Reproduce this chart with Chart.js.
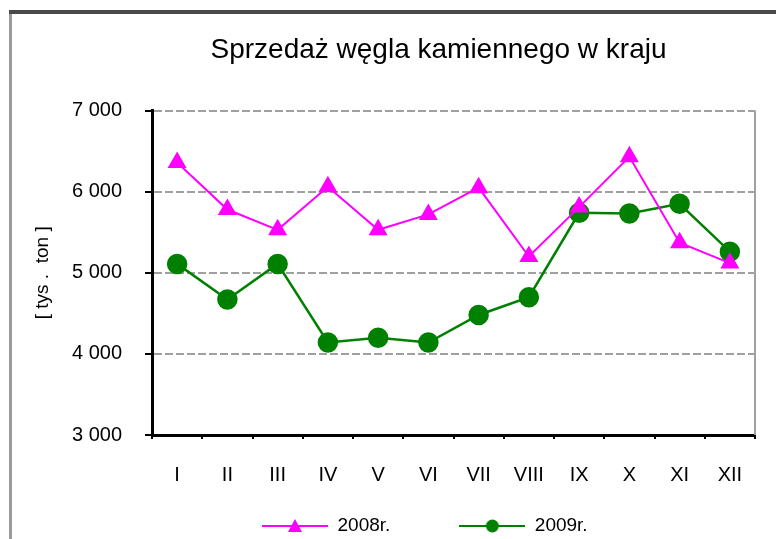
<!DOCTYPE html>
<html>
<head>
<meta charset="utf-8">
<script src="https://cdn.jsdelivr.net/npm/chart.js@4/dist/chart.umd.min.js"></script>
<style>
  html, body { margin: 0; padding: 0; background: #fff; }
  #wrap { position: relative; width: 776px; height: 539px; }
</style>
</head>
<body>
<div id="wrap"><canvas id="c" width="776" height="539"></canvas></div>
<script>
const months = ['I', 'II', 'III', 'IV', 'V', 'VI', 'VII', 'VIII', 'IX', 'X', 'XI', 'XII'];
const sales2008 = [6360, 5780, 5530, 6060, 5530, 5720, 6050, 5200, 5810, 6430, 5370, 5120];
const sales2009 = [5110, 4670, 5110, 4140, 4200, 4140, 4480, 4700, 5740, 5730, 5850, 5260];
const seriesNames = ['2008r.', '2009r.'];
const titleText = 'Sprzedaż węgla kamiennego w kraju';
const yTitle = '[ tys .  ton ]';

const FONT = "'Liberation Sans', Arial, sans-serif";
const MAGENTA = '#FF00FF';
const GREEN = '#008000';

function legendIcon(color, style) {
  const cv = document.createElement('canvas');
  cv.width = 66; cv.height = 16;
  const g = cv.getContext('2d');
  g.strokeStyle = color; g.lineWidth = 2;
  g.beginPath(); g.moveTo(0, 8); g.lineTo(66, 8); g.stroke();
  g.fillStyle = color;
  g.beginPath();
  if (style === 'triangle') {
    g.moveTo(33, 1); g.lineTo(40, 14); g.lineTo(26, 14); g.closePath();
  } else {
    g.arc(33, 8, 6.5, 0, Math.PI * 2);
  }
  g.fill();
  return cv;
}

const frame = {
  id: 'frame',
  afterLayout(chart) {
    const L = chart.legend;
    if (L) {
      L.left = 262 - 69; L.right = 776;
      L.top = 526 - 69 - 9.5; L.bottom = 539;
      L.height = L.bottom - L.top;
      L.width = L.right - L.left;
    }
    const T = chart.titleBlock;
    if (T) { T.left += 61; T.right += 61; }
  },
  afterDraw(chart) {
    const ctx = chart.ctx, a = chart.chartArea;
    ctx.save();
    ctx.fillStyle = '#9a9a9a';
    ctx.fillRect(9, 11, 3, 528);
    ctx.fillStyle = '#4a4a4a';
    ctx.fillRect(9, 10, 767, 4);
    ctx.strokeStyle = '#a0a0a0';
    ctx.lineWidth = 2;
    ctx.beginPath(); ctx.moveTo(a.right, a.top); ctx.lineTo(a.right, a.bottom); ctx.stroke();
    ctx.restore();
  }
};

new Chart(document.getElementById('c'), {
  type: 'line',
  data: {
    labels: months,
    datasets: [
      { label: seriesNames[0], data: sales2008, borderColor: MAGENTA, backgroundColor: MAGENTA,
        borderWidth: 2, pointStyle: 'triangle', pointRadius: 9, pointHoverRadius: 9, tension: 0 },
      { label: seriesNames[1], data: sales2009, borderColor: GREEN, backgroundColor: GREEN,
        borderWidth: 2.5, pointStyle: 'circle', pointRadius: 9, pointHoverRadius: 9, tension: 0 }
    ]
  },
  options: {
    responsive: false,
    animation: false,
    layout: { padding: { left: 0, right: 21, top: 0, bottom: 10 } },
    plugins: {
      tooltip: { enabled: false },
      title: {
        display: true, text: titleText, color: '#000',
        font: { family: FONT, size: 28, weight: 'normal' },
        padding: { top: 33, bottom: 44 }
      },
      legend: {
        position: 'bottom', align: 'start', maxHeight: 40,
        labels: {
          usePointStyle: true, pointStyleWidth: 66, color: '#000',
          font: { family: FONT, size: 19 }, padding: 69,
          generateLabels(chart) {
            return chart.data.datasets.map((ds, i) => ({
              text: ds.label, datasetIndex: i, fontColor: '#000',
              pointStyle: legendIcon(ds.borderColor, ds.pointStyle),
              strokeStyle: 'transparent', fillStyle: 'transparent', lineWidth: 0
            }));
          }
        }
      }
    },
    scales: {
      x: {
        offset: true,
        afterFit(s) { s.height = 54; },
        grid: { offset: true, drawOnChartArea: false, drawTicks: true, tickLength: 4, color: '#000', tickColor: '#000', lineWidth: 2 },
        border: { display: true, color: '#000', width: 3 },
        ticks: { color: '#000', font: { family: FONT, size: 20 }, padding: 24, maxRotation: 0 }
      },
      y: {
        min: 3000, max: 7000,
        afterFit(s) { s.width = 152; },
        grid: { color: '#a0a0a0', lineWidth: 2, tickLength: 7, tickColor: '#000', tickWidth: 2, tickBorderDash: [] },
        border: { display: true, color: '#000', width: 3, dash: [8, 3] },
        ticks: {
          stepSize: 1000, color: '#000', font: { family: FONT, size: 20 }, padding: 23,
          callback(v) { return String(v).replace(/\B(?=(\d{3})+(?!\d))/g, ' '); }
        },
        title: { display: true, text: yTitle, color: '#000', font: { family: FONT, size: 19 }, padding: { top: 31, bottom: 0 } }
      }
    }
  },
  plugins: [frame]
});
</script>
</body>
</html>
